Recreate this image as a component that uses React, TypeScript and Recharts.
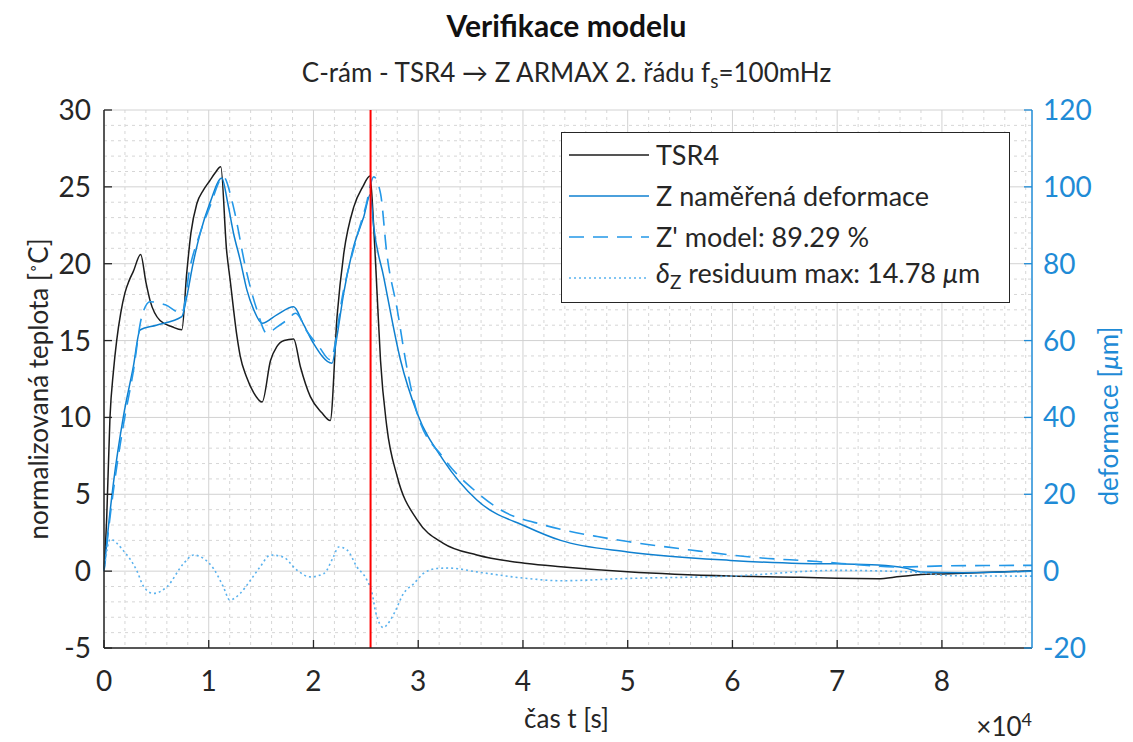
import React from "react";
import {
  LineChart,
  Line,
  XAxis,
  YAxis,
  CartesianGrid,
  ReferenceLine,
  Legend,
} from "recharts";

const FONT = "Lato, 'DejaVu Sans', sans-serif";
const INK = "#262626";
const AXIS_BLUE = "#1f8bd6";

const C_TSR = "#1c1c1c";
const C_Z = "#0f80d0";
const C_MODEL = "#2398e8";
const C_RES = "#5ab2ee";

// TSR4 - normalised temperature [°C] vs time [s]
const tsrTime = [
  0, 260, 570, 900, 1210, 1600, 2000, 2400, 2800, 3500, 4000, 4400, 5350, 6500,
  7430, 7900, 8300, 8860, 9500, 10100, 10600, 11150, 11700, 12050, 12700, 13000,
  13600, 14300, 15100, 15900, 16500, 17200, 18100, 18750, 19700, 20800, 21600,
  22250, 22900, 23850, 24700, 25400, 25750, 26070, 26400, 27000, 28000, 29900,
  32400, 35600, 40400, 43600, 50000, 59800, 66500, 70000, 73900, 76000, 78000,
  80000, 88600,
];
const tsrTemp = [
  0, 3.5, 10.0, 13.0, 15.0, 16.8, 18.1, 18.9, 19.5, 20.6, 18.8, 17.6, 16.3,
  15.9, 15.7, 19.4, 22.0, 23.9, 24.8, 25.4, 25.9, 26.3, 20.9, 18.9, 15.25, 14.0,
  12.65, 11.6, 11.0, 13.7, 14.6, 15.0, 15.1, 13.3, 11.35, 10.3, 9.8, 16.55, 20.7,
  23.7, 25.0, 25.7, 22.4, 18.1, 13.7, 9.4, 6.14, 3.33, 1.81, 1.05, 0.5, 0.29,
  -0.04, -0.32, -0.4, -0.47, -0.5, -0.35, -0.22, -0.18, 0.02,
];

// Z measured deformation [um]
const zTime = [
  0, 400, 900, 1850, 2800, 3440, 5000, 7430, 7900, 8500, 9180, 10100, 11250,
  11800, 12360, 13000, 13640, 14300, 15100, 16500, 18100, 19000, 20000, 21770,
  22240, 22880, 23830, 24800, 25430, 25750, 26700, 28300, 29900, 32400, 35600,
  40400, 43600, 50000, 59800, 66500, 70000, 73900, 76500, 78000, 82000, 88600,
];
const zVal = [
  0, 11, 22.9, 40.2, 53.2, 62.75, 64.0, 66.2, 71.4, 80, 87.9, 95.7, 102.3, 96,
  88, 81, 73.2, 68, 64.5, 66.7, 68.8, 64.5, 59.3, 54.1, 61.0, 72.3, 84.4, 92.2,
  98, 89.6, 76.6, 55.0, 41.1, 28.9, 18.5, 11.5, 8.0, 5.0, 2.8, 2.0, 1.9, 1.6, 0.8,
  -0.2, -0.4, 0.0,
];

// Z' ARMAX model output [um]
const mTime = [
  0, 400, 900, 1850, 2800, 3600, 4400, 5850, 7430, 8220, 9180, 10100, 11400,
  12200, 12500, 13500, 14600, 15550, 16500, 17500, 18300, 19400, 20500, 21600,
  22880, 24150, 25000, 25750, 26400, 27000, 28000, 28900, 29900, 32400, 35600,
  37900, 42000, 43900, 47100, 50000, 56000, 62000, 68100, 70400, 76000, 80900,
  88600,
];
const mVal = [
  0, 10, 21, 38, 52, 66.2, 70.1, 69.3, 67.1, 79.2, 88, 94.8, 102.6, 96.6, 93.1,
  79.2, 68.0, 61.9, 63.5, 65.4, 67.1, 62.3, 58.5, 55.0, 73.2, 87.0, 95, 102.6,
  98.3, 82.7, 68.0, 53.2, 41.1, 29.5, 20.5, 15.9, 12.0, 10.7, 9.0, 7.7, 5.5, 3.6,
  2.5, 2.0, 1.1, 1.4, 1.5,
];

// residual dZ [um]
const rTime = [
  0, 600, 1800, 3100, 3800, 4700, 6000, 7600, 8550, 9500, 10450, 11400, 12000,
  13000, 14000, 14900, 15900, 17100, 18400, 19700, 21000, 21900, 22400, 23200,
  24150, 25100, 25600, 25900, 26300, 26700, 27000, 27700, 28600, 29600, 30500,
  31800, 33000, 35600, 40400, 43600, 50000, 59800, 70000, 77000, 81000, 88600,
];
const rVal = [
  0, 8.3, 5.5, 0.3, -4.1, -5.8, -4.1, 2.0, 4.2, 3.3, 0.7, -4.1, -7.5, -5.8, -2.3,
  1.1, 4.2, 3.7, 0.3, -1.5, -0.6, 3.7, 6.3, 5.5, 1.1, -2.3, -5.8, -10.2, -13.6,
  -14.7, -14.0, -11.0, -5.8, -3.2, -0.6, 0.7, 0.8, -0.2, -1.9, -2.5, -1.9, -1.3,
  0.2, -0.2, -1.2, -1.3,
];

const splitTime = 25450;

const xTicks = [0, 10000, 20000, 30000, 40000, 50000, 60000, 70000, 80000];
const leftTicks = [-5, 0, 5, 10, 15, 20, 25, 30];
const rightTicks = [-20, 0, 20, 40, 60, 80, 100, 120];

const X_MAX = 88600;

// minor grid: 5 steps per x decade, 1 °C on the left axis
const xMinor: number[] = [];
for (let v = 2000; v < X_MAX; v += 2000) if (v % 10000 !== 0) xMinor.push(v);
const yMinor: number[] = [];
for (let v = -4; v < 30; v += 1) if (v % 5 !== 0) yMinor.push(v);

const pairs = (t: number[], v: number[]) => t.map((x, i) => ({ t: x, v: v[i] }));
const tsrData = pairs(tsrTime, tsrTemp);
const zData = pairs(zTime, zVal);
const mData = pairs(mTime, mVal);
const rData = pairs(rTime, rVal);

const TICK_LEN = 8;
const TICK_FONT = 28;

const BottomTick = (p: any) => {
  const { x, y, payload } = p;
  return (
    <g>
      <line x1={x} x2={x} y1={y} y2={y - TICK_LEN} stroke={INK} strokeWidth={1.3} />
      <text x={x} y={y + 43} textAnchor="middle" fill={INK} fontSize={TICK_FONT} fontFamily={FONT}>
        {payload.value / 10000}
      </text>
    </g>
  );
};

const LeftTick = (p: any) => {
  const { x, y, payload } = p;
  return (
    <g>
      <line x1={x} x2={x + TICK_LEN} y1={y} y2={y} stroke={INK} strokeWidth={1.3} />
      <text x={x - 13} y={y + 10} textAnchor="end" fill={INK} fontSize={TICK_FONT} fontFamily={FONT}>
        {payload.value}
      </text>
    </g>
  );
};

const RightTick = (p: any) => {
  const { x, y, payload } = p;
  return (
    <g>
      <line x1={x} x2={x - TICK_LEN} y1={y} y2={y} stroke={AXIS_BLUE} strokeWidth={1.3} />
      <text x={x + 11} y={y + 10} textAnchor="start" fill={AXIS_BLUE} fontSize={TICK_FONT} fontFamily={FONT}>
        {payload.value}
      </text>
    </g>
  );
};

const legendRows = [
  { color: C_TSR, dash: undefined, label: <>TSR4</> },
  { color: C_Z, dash: undefined, label: <>Z naměřená deformace</> },
  { color: C_MODEL, dash: "15 9", label: <>Z' model: 89.29 %</> },
  {
    color: C_RES,
    dash: "2 3",
    label: (
      <>
        <i>δ</i>
        <sub style={{ fontSize: 19 }}>Z</sub> residuum max: 14.78 <i>μ</i>m
      </>
    ),
  },
];

function LegendBox() {
  return (
    <div
      style={{
        width: 449,
        height: 171,
        boxSizing: "border-box",
        border: `1.5px solid ${INK}`,
        background: "#fff",
        position: "relative",
        fontFamily: FONT,
        fontSize: 27,
        color: INK,
      }}
    >
      {legendRows.map((r, i) => (
        <div
          key={i}
          style={{
            position: "absolute",
            left: 6,
            top: 6 + i * 41,
            height: 32,
            display: "flex",
            alignItems: "center",
            whiteSpace: "nowrap",
          }}
        >
          <svg width={82} height={32}>
            <line x1={1} x2={81} y1={16} y2={16} stroke={r.color} strokeWidth={1.6} strokeDasharray={r.dash} />
          </svg>
          <span style={{ marginLeft: 6, lineHeight: "32px" }}>{r.label}</span>
        </div>
      ))}
    </div>
  );
}

export default function App() {
  return (
    <div style={{ position: "absolute", left: 0, top: 0, width: 1133, height: 742, background: "#fff", fontFamily: FONT }}>
      <div style={{ position: "absolute", top: 7, left: 0, width: 1133, textAlign: "center", fontSize: 30, fontWeight: 700, lineHeight: "36px", color: "#111" }}>
        Verifikace modelu
      </div>
      <div style={{ position: "absolute", top: 55, left: 0, width: 1133, textAlign: "center", fontSize: 26, lineHeight: "34px", color: INK }}>
        C-rám - TSR4 → Z ARMAX 2. řádu f<sub style={{ fontSize: 19 }}>s</sub>=100mHz
      </div>

      <LineChart width={1133} height={742} margin={{ top: 110, right: 0, bottom: 0, left: 0 }}>
        <CartesianGrid
          yAxisId="left"
          stroke="#d6d6d6"
          strokeDasharray="3 4"
          verticalValues={xMinor}
          horizontalValues={yMinor}
        />
        <CartesianGrid yAxisId="left" stroke="#d2d2d2" verticalValues={xTicks} horizontalValues={leftTicks} />
        <XAxis
          dataKey="t"
          type="number"
          domain={[0, X_MAX]}
          ticks={xTicks}
          interval={0}
          height={94}
          tickSize={0}
          tickMargin={0}
          tickLine={false}
          axisLine={{ stroke: INK, strokeWidth: 1.5 }}
          tick={<BottomTick />}
          allowDuplicatedCategory={false}
        />
        <YAxis
          yAxisId="left"
          domain={[-5, 30]}
          ticks={leftTicks}
          interval={0}
          width={104}
          tickSize={0}
          tickMargin={0}
          tickLine={false}
          axisLine={{ stroke: INK, strokeWidth: 1.5 }}
          tick={<LeftTick />}
        />
        <YAxis
          yAxisId="right"
          orientation="right"
          domain={[-20, 120]}
          ticks={rightTicks}
          interval={0}
          width={101}
          tickSize={0}
          tickMargin={0}
          tickLine={false}
          axisLine={{ stroke: AXIS_BLUE, strokeWidth: 1.5 }}
          tick={<RightTick />}
        />
        <Line yAxisId="left" data={tsrData} dataKey="v" name="TSR4" type="monotone" stroke={C_TSR} strokeWidth={1.5} dot={false} isAnimationActive={false} />
        <Line yAxisId="right" data={zData} dataKey="v" name="Z" type="monotone" stroke={C_Z} strokeWidth={1.5} dot={false} isAnimationActive={false} />
        <Line yAxisId="right" data={mData} dataKey="v" name="Z'" type="monotone" stroke={C_MODEL} strokeWidth={1.6} strokeDasharray="15 9" dot={false} isAnimationActive={false} />
        <Line yAxisId="right" data={rData} dataKey="v" name="dZ" type="monotone" stroke={C_RES} strokeWidth={1.6} strokeDasharray="2 3" dot={false} isAnimationActive={false} />
        <ReferenceLine yAxisId="left" x={splitTime} stroke="#ff0000" strokeWidth={2} />
        <Legend
          layout="vertical"
          align="center"
          verticalAlign="middle"
          content={<LegendBox />}
          wrapperStyle={{ left: 561, top: 132, width: 449, height: 171 }}
        />
      </LineChart>

      <div
        style={{
          position: "absolute",
          left: 38,
          top: 389,
          transform: "translate(-50%, -50%) rotate(-90deg)",
          whiteSpace: "nowrap",
          fontSize: 26,
          color: INK,
        }}
      >
        normalizovaná teplota [<sup style={{ fontSize: 15 }}>∘</sup>C]
      </div>
      <div
        style={{
          position: "absolute",
          left: 1108,
          top: 416,
          transform: "translate(-50%, -50%) rotate(-90deg)",
          whiteSpace: "nowrap",
          fontSize: 26,
          color: AXIS_BLUE,
        }}
      >
        deformace [<i>μ</i>m]
      </div>
      <div style={{ position: "absolute", top: 702, left: 0, width: 1133, textAlign: "center", fontSize: 26, lineHeight: "32px", color: INK }}>
        čas t [s]
      </div>
      <div style={{ position: "absolute", top: 703, left: 880, width: 152, textAlign: "right", fontSize: 26, lineHeight: "32px", color: INK }}>
        ×10<sup style={{ fontSize: 18 }}>4</sup>
      </div>
    </div>
  );
}
